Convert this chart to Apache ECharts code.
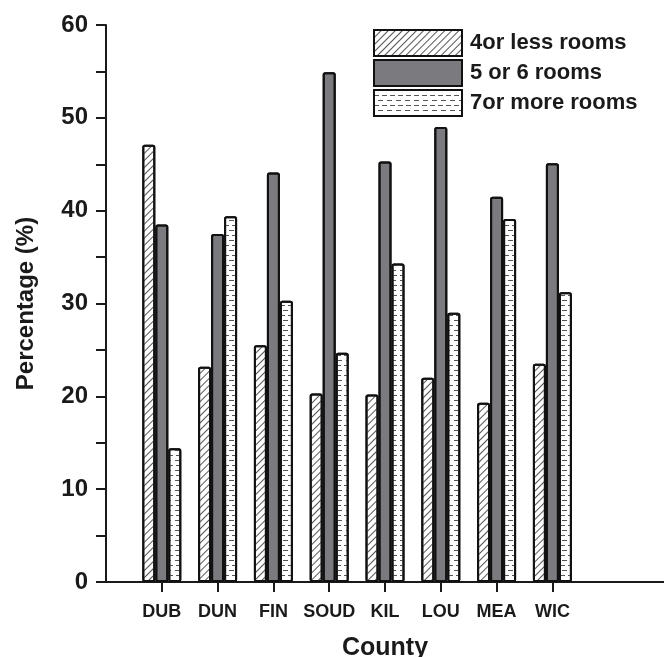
<!DOCTYPE html>
<html>
<head>
<meta charset="utf-8">
<title>Rooms per dwelling by county</title>
<script src="https://cdn.jsdelivr.net/npm/echarts@6/dist/echarts.min.js"></script>
<style>
  html, body { margin: 0; padding: 0; background: #fff; }
  #chart { width: 664px; height: 657px; }
</style>
</head>
<body>
<div id="chart"></div>
<script>
// counties on the x axis
var counties = ['DUB', 'DUN', 'FIN', 'SOUD', 'KIL', 'LOU', 'MEA', 'WIC'];
// percentages
var fourOrLess = [47.1, 23.2, 25.5, 20.3, 20.2, 22.0, 19.3, 23.5];
var fiveOrSix = [38.5, 37.5, 44.1, 54.9, 45.3, 49.0, 41.5, 45.1];
var sevenOrMore = [14.4, 39.4, 30.3, 24.7, 34.3, 29.0, 39.1, 31.2];
var yTicks = [0, 10, 20, 30, 40, 50, 60];

var FONT = '"Liberation Sans", Arial, sans-serif';
var INK = '#1a1a1a';

// the axis starts one slot before DUB and runs two slots past WIC
var axisCats = [''].concat(counties, ['', '']);
function pad(arr) {
  return ['-'].concat(arr, ['-', '-']);
}

var chart = echarts.init(document.getElementById('chart'));

var barBase = {
  type: 'bar',
  barWidth: 13,
  barGap: '0%',
  itemStyle: {
    borderColor: '#111',
    borderWidth: 2,
    borderRadius: 1.5
  }
};

chart.setOption({
  animation: false,
  aria: { enabled: true, decal: { show: true } },
  grid: { left: 106, right: 0, top: 25, bottom: 75, outerBoundsMode: 'none', containLabel: false },
  legend: {
    orient: 'vertical',
    left: 373,
    top: 29,
    padding: 0,
    icon: 'rect',
    itemWidth: 88,
    itemHeight: 26,
    itemGap: 2,
    textStyle: { fontFamily: FONT, fontWeight: 'bold', fontSize: 22, lineHeight: 26, color: INK, padding: [0, 0, 0, 3] },
    data: ['4or less rooms', '5 or 6 rooms', '7or more rooms']
  },
  xAxis: {
    type: 'category',
    data: axisCats,
    boundaryGap: false,
    name: 'County',
    nameLocation: 'middle',
    nameGap: 54,
    nameTextStyle: { fontFamily: FONT, fontWeight: 'bold', fontSize: 25, color: INK },
    axisLine: { lineStyle: { color: INK, width: 2 } },
    axisTick: {
      length: 10,
      lineStyle: { color: INK, width: 2 },
      interval: function (idx, val) { return val !== ''; }
    },
    axisLabel: {
      interval: 0,
      margin: 21,
      fontFamily: FONT,
      fontWeight: 'bold',
      fontSize: 18,
      color: INK
    },
    splitLine: { show: false }
  },
  yAxis: {
    type: 'value',
    min: yTicks[0],
    max: yTicks[yTicks.length - 1],
    interval: 10,
    name: 'Percentage (%)',
    nameLocation: 'middle',
    nameGap: 68,
    nameTextStyle: { fontFamily: FONT, fontWeight: 'bold', fontSize: 24, color: INK },
    axisLine: { show: true, lineStyle: { color: INK, width: 2 } },
    axisTick: { show: true, length: 10, lineStyle: { color: INK, width: 2 } },
    minorTick: { show: true, splitNumber: 2, length: 10, lineStyle: { color: INK, width: 2 } },
    axisLabel: {
      margin: 18,
      fontFamily: FONT,
      fontWeight: 'bold',
      fontSize: 24,
      color: INK
    },
    splitLine: { show: false }
  },
  series: [
    echarts.util.merge({
      name: '4or less rooms',
      data: pad(fourOrLess),
      itemStyle: {
        color: '#ffffff',
        decal: {
          symbol: 'rect',
          symbolSize: 1,
          color: '#555',
          dashArrayX: [1, 0],
          dashArrayY: [1, 4],
          rotation: -Math.PI / 4
        }
      }
    }, barBase),
    echarts.util.merge({
      name: '5 or 6 rooms',
      data: pad(fiveOrSix),
      itemStyle: { color: '#7b7b7f', decal: { symbol: 'none' } }
    }, barBase),
    echarts.util.merge({
      name: '7or more rooms',
      data: pad(sevenOrMore),
      itemStyle: {
        color: '#ffffff',
        decal: {
          symbol: 'rect',
          symbolSize: 1,
          color: '#555',
          dashArrayX: [[5, 3], [0, 4, 5, 0]],
          dashArrayY: [1, 4],
          rotation: 0
        }
      }
    }, barBase)
  ]
});
</script>
</body>
</html>
